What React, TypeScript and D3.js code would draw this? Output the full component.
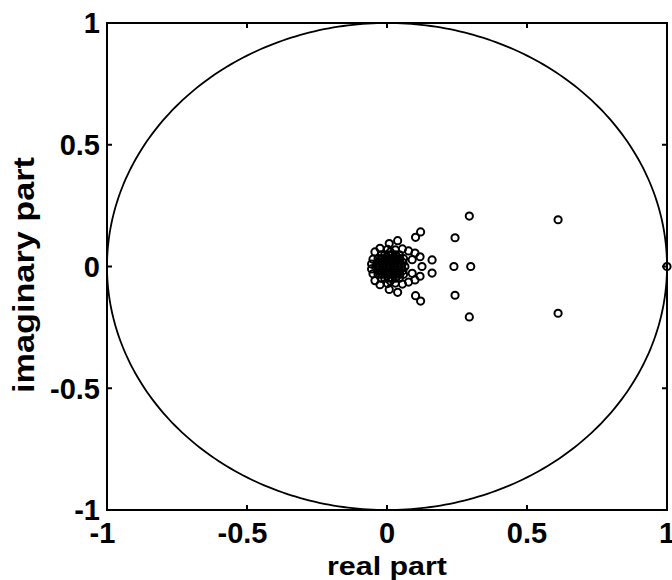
import React from "react";
import * as d3 from "d3";

// Isolated eigenvalues [real, imaginary]
const outlierEigs: [number, number][] = [
  [1.0, 0],
  [0.611, 0.192], [0.611, -0.192],
  [0.294, 0.207], [0.294, -0.207],
  [0.299, 0],
  [0.243, 0.118], [0.243, -0.118],
  [0.239, 0],
  [0.161, 0.027], [0.161, -0.027],
  [0.12, 0.142], [0.12, -0.142],
  [0.102, 0.12], [0.102, -0.12],
  [0.038, 0.106], [0.038, -0.106],
  [0.008, 0.094], [0.008, -0.094],
];

// Ring of eigenvalues around the dense cluster near the origin
const ringEigs: [number, number][] = [
  [0.125, 0],
  [0.118, 0.04], [0.118, -0.04],
  [0.1, 0.055], [0.1, -0.055],
  [0.077, 0.064], [0.077, -0.064],
  [0.055, 0.072], [0.055, -0.072],
  [0.09, 0.028], [0.09, -0.028],
  [-0.025, 0.075], [-0.025, -0.075],
  [-0.043, 0.06], [-0.043, -0.058],
  [-0.05, 0.03], [-0.05, -0.03],
  [-0.055, 0.01], [-0.055, -0.01],
  [0.002, 0.07], [0.002, -0.07],
  [0.03, 0.068], [0.03, -0.068],
];

// Dense cluster of eigenvalues around the origin
const clusterEigs: [number, number][] = [
  [-0.04, 0], [-0.027, 0], [-0.014, 0], [-0.001, 0], [0.012, 0],
  [0.025, 0], [0.038, 0], [0.051, 0], [0.064, 0],
  [-0.034, 0.016], [-0.021, 0.016], [-0.008, 0.016], [0.005, 0.016],
  [0.018, 0.016], [0.031, 0.016], [0.044, 0.016], [0.057, 0.016],
  [-0.034, -0.016], [-0.021, -0.016], [-0.008, -0.016], [0.005, -0.016],
  [0.018, -0.016], [0.031, -0.016], [0.044, -0.016], [0.057, -0.016],
  [-0.032, 0.032], [-0.019, 0.032], [-0.006, 0.032], [0.007, 0.032],
  [0.02, 0.032], [0.033, 0.032], [0.046, 0.032], [0.059, 0.032],
  [-0.032, -0.032], [-0.019, -0.032], [-0.006, -0.032], [0.007, -0.032],
  [0.02, -0.032], [0.033, -0.032], [0.046, -0.032], [0.059, -0.032],
  [-0.021, 0.048], [-0.008, 0.048], [0.005, 0.048], [0.018, 0.048],
  [0.031, 0.048], [0.044, 0.048],
  [-0.021, -0.048], [-0.008, -0.048], [0.005, -0.048], [0.018, -0.048],
  [0.031, -0.048], [0.044, -0.048],
  [0.012, 0.06], [0.012, -0.06],
];

const xTicks: number[] = [-1, -0.5, 0, 0.5, 1];
const yTicks: number[] = [-1, -0.5, 0, 0.5, 1];
const xTickLabels: string[] = ["-1", "-0.5", "0", "0.5", "1"];
const yTickLabels: string[] = ["-1", "-0.5", "0", "0.5", "1"];

const W = 672;
const H = 580;
const left = 107;
const right = 667;
const top = 23;
const bottom = 510;
const font = "'Liberation Sans', Arial, Helvetica, sans-serif";

export default function App() {
  const x = d3.scaleLinear().domain([-1, 1]).range([left, right]);
  const y = d3.scaleLinear().domain([-1, 1]).range([bottom, top]);

  // unit circle
  const angles = d3.range(0, 361, 1).map((d) => (d * Math.PI) / 180);
  const circlePath = d3
    .line<number>()
    .x((a) => x(Math.cos(a)))
    .y((a) => y(Math.sin(a)))(angles);

  const eigs = [...clusterEigs, ...ringEigs, ...outlierEigs];
  const tickLen = 5;

  return (
    <svg
      width={W}
      height={H}
      style={{ position: "absolute", left: 0, top: 0, background: "#fff" }}
    >
      <rect x={0} y={0} width={W} height={H} fill="#fff" />
      <path d={circlePath ?? ""} fill="none" stroke="#000" strokeWidth={1.8} />
      {eigs.map(([re, im], i) => (
        <circle
          key={i}
          cx={x(re)}
          cy={y(im)}
          r={3.6}
          fill="none"
          stroke="#000"
          strokeWidth={2}
        />
      ))}
      {/* axes box */}
      <rect
        x={left}
        y={top}
        width={right - left}
        height={bottom - top}
        fill="none"
        stroke="#000"
        strokeWidth={2}
      />
      {xTicks.map((t) => (
        <g key={"xt" + t}>
          <line x1={x(t)} x2={x(t)} y1={bottom} y2={bottom - tickLen} stroke="#000" strokeWidth={2} />
          <line x1={x(t)} x2={x(t)} y1={top} y2={top + tickLen} stroke="#000" strokeWidth={2} />
        </g>
      ))}
      {yTicks.map((t) => (
        <g key={"yt" + t}>
          <line x1={left} x2={left + tickLen} y1={y(t)} y2={y(t)} stroke="#000" strokeWidth={2} />
          <line x1={right} x2={right - tickLen} y1={y(t)} y2={y(t)} stroke="#000" strokeWidth={2} />
        </g>
      ))}
      {xTicks.map((t, i) => (
        <text
          key={"xl" + t}
          x={x(t) - (t < 0 ? 4.5 : 0)}
          y={543}
          textAnchor="middle"
          fontFamily={font}
          fontWeight="bold"
          fontSize={29}
        >
          {xTickLabels[i]}
        </text>
      ))}
      {yTicks.map((t, i) => (
        <text
          key={"yl" + t}
          x={100}
          y={y(t) + 10.4}
          textAnchor="end"
          fontFamily={font}
          fontWeight="bold"
          fontSize={29}
        >
          {yTickLabels[i]}
        </text>
      ))}
      <text
        x={387}
        y={575}
        textAnchor="middle"
        fontFamily={font}
        fontWeight="bold"
        fontSize={25}
        textLength={120}
        lengthAdjust="spacingAndGlyphs"
      >
        real part
      </text>
      <text
        transform={`translate(34, 275) rotate(-90)`}
        textAnchor="middle"
        fontFamily={font}
        fontWeight="bold"
        fontSize={30}
        textLength={236}
        lengthAdjust="spacingAndGlyphs"
      >
        imaginary part
      </text>
    </svg>
  );
}
